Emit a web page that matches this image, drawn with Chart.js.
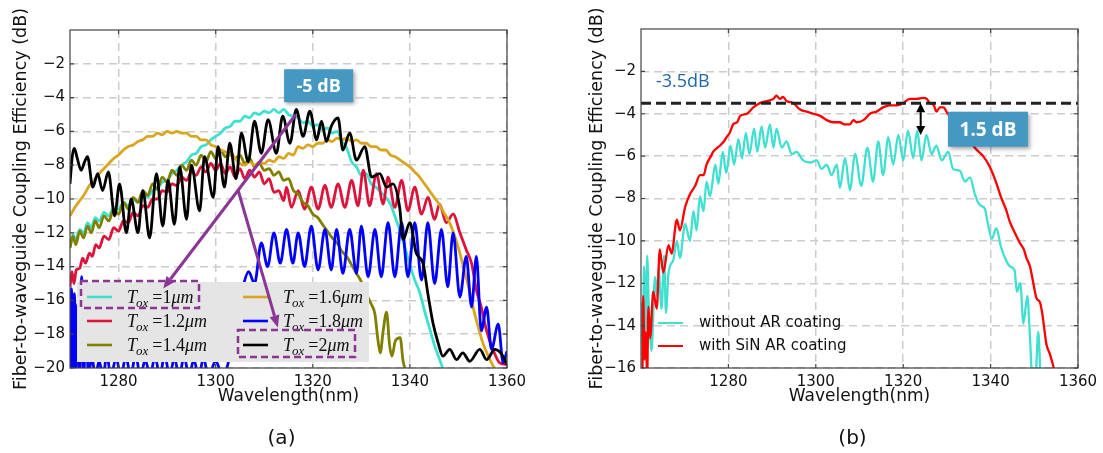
<!DOCTYPE html>
<html>
<head>
<meta charset="utf-8">
<script src="https://cdn.jsdelivr.net/npm/chart.js@4"></script>
<style>
  html, body { margin: 0; padding: 0; background: #fff; }
  #wrap { position: relative; width: 1103px; height: 453px; overflow: hidden; }
  canvas { position: absolute; top: 0; }
  #chartA { left: 0; }
  #chartB { left: 560px; }
</style>
</head>
<body>
<div id="wrap">
  <canvas id="chartA" width="540" height="453"></canvas>
  <canvas id="chartB" width="543" height="453"></canvas>
</div>
<script>
// axis ticks
const xTicksA = [1280, 1300, 1320, 1340, 1360];
const yTicksA = [-20, -18, -16, -14, -12, -10, -8, -6, -4, -2];
const xTicksB = [1280, 1300, 1320, 1340, 1360];
const yTicksB = [-16, -14, -12, -10, -8, -6, -4, -2];

// legend entries
const oxideThickness = ['1', '1.2', '1.4', '1.6', '1.8', '2'];
const coatingLabels = ['without AR coating', 'with SiN AR coating'];

// annotated levels (dB)
const peakDb = -5;
const refLevelDb = -3.5;
const gainDb = 1.5;

// (a) coupling spectra for each oxide thickness, [wavelength nm, dB]
const tox10 = [[1270,-12.8],[1270.6,-12.1],[1271.2,-12.4],[1272,-11.8],[1272.8,-12.0],[1273.6,-11.4],[1274.4,-11.7],[1275.2,-11.1],[1276,-11.3],[1277,-10.8],[1278,-11.0],[1279,-10.5],[1280,-10.6],[1281,-10.2],[1282,-10.4],[1283,-10.0],[1284,-10.2],[1285,-9.8],[1286,-9.9],[1287,-9.5],[1288,-9.4],[1289,-9.0],[1290,-8.9],[1291,-8.5],[1292,-8.3],[1293,-8.0],[1294,-7.8],[1295,-7.4],[1296,-7.3],[1297,-6.9],[1298,-6.8],[1299,-6.5],[1300,-6.3],[1301,-6.1],[1302,-5.8],[1303,-5.7],[1304,-5.4],[1305,-5.4],[1306,-5.1],[1307,-5.2],[1308,-4.9],[1309,-5.0],[1310,-4.8],[1311,-4.9],[1312,-4.7],[1313,-4.9],[1314,-4.7],[1315,-5.0],[1316,-5.1],[1317,-5.2],[1318,-5.5],[1319,-5.4],[1320,-5.7],[1321,-5.6],[1322,-5.9],[1323,-5.8],[1324,-6.1],[1325,-6.0],[1326,-6.6],[1327,-7.0],[1328,-7.8],[1329,-8.1],[1330,-8.6],[1331,-8.5],[1332,-9.1],[1333,-9.3],[1334,-9.6],[1335,-9.9],[1336,-10.3],[1337,-11.1],[1338,-11.9],[1339,-12.9],[1340,-13.9],[1341,-14.8],[1342,-15.5],[1343,-16.6],[1344,-17.6],[1345,-18.6],[1346,-19.4],[1347,-20.2]];
const tox12 = [[1270,-15.2],[1270.4,-14.3],[1270.8,-15.0],[1271.3,-14.2],[1272,-14.1],[1272.6,-13.5],[1273.2,-13.8],[1274,-13.2],[1274.6,-13.4],[1275.3,-12.7],[1276,-12.9],[1277,-12.2],[1278,-12.4],[1279,-11.7],[1280,-11.9],[1281,-11.3],[1282,-11.4],[1283,-10.8],[1284,-11.0],[1285,-10.4],[1286,-10.5],[1287,-10.0],[1288,-10.0],[1289,-9.5],[1290,-9.6],[1291,-9.1],[1292,-9.2],[1293,-8.7],[1294,-8.9],[1295,-8.4],[1296,-8.6],[1297,-8.1],[1298,-8.4],[1299,-7.9],[1300,-8.3],[1301,-7.9],[1302,-8.5],[1303,-8.1],[1304,-8.7],[1305,-8.2],[1306,-8.8],[1307,-8.3],[1308,-8.7],[1309,-8.4],[1310,-9.1],[1311,-8.8],[1312,-9.6],[1313,-9.5],[1314,-10.1],[1314.6,-9.3],[1315.6,-10.5],[1317,-9.5],[1318.3,-10.6],[1319.7,-9.3],[1321.1,-10.6],[1322.5,-9.2],[1323.8,-10.5],[1325.2,-9.1],[1326.6,-10.5],[1328,-8.9],[1329.3,-10.4],[1330.4,-8.3],[1331.7,-10.4],[1333.1,-8.5],[1334.5,-10.3],[1335.5,-8.7],[1336.9,-10.5],[1338.3,-8.9],[1339.6,-10.7],[1341,-9.3],[1342.4,-10.9],[1343.7,-9.9],[1345.1,-11.2],[1346.1,-10.3],[1347.5,-11.4],[1348.9,-10.9],[1350.3,-12.0],[1351.6,-13.0],[1352.7,-13.8],[1353.7,-15.4],[1354.7,-16.4],[1355.8,-17.8],[1357.1,-18.9],[1358.5,-19.7],[1360,-19.8]];
const tox14 = [[1270,-12.9],[1270.6,-12.2],[1271.2,-12.7],[1272,-11.9],[1272.8,-12.3],[1273.6,-11.6],[1274.4,-12.0],[1275.2,-11.3],[1276,-11.7],[1277,-11.0],[1278,-11.3],[1279,-10.6],[1280,-10.9],[1281,-10.2],[1282,-10.6],[1283,-9.9],[1284,-10.2],[1285,-9.5],[1286,-9.8],[1287,-9.1],[1288,-9.4],[1289,-8.7],[1290,-9.0],[1291,-8.3],[1292,-8.6],[1293,-8.0],[1294,-8.3],[1295,-7.7],[1296,-8.0],[1297,-7.4],[1298,-7.8],[1299,-7.2],[1300,-7.6],[1301,-7.1],[1302,-7.5],[1303,-7.2],[1304,-7.6],[1305,-7.4],[1306,-7.9],[1307,-7.6],[1308,-8.1],[1309,-7.9],[1310,-8.3],[1311,-8.2],[1312,-8.6],[1313,-8.4],[1314,-8.9],[1315,-8.8],[1316,-9.5],[1317,-9.7],[1318,-10.2],[1319,-10.4],[1320,-10.9],[1321,-11.1],[1322,-11.5],[1323,-11.9],[1324,-12.3],[1325,-12.6],[1326,-13.1],[1327,-13.4],[1328,-13.9],[1329,-14.4],[1330,-14.9],[1331,-15.6],[1332,-16.2],[1332.8,-16.8],[1333.4,-18.3],[1333.9,-19.1],[1334.5,-17.8],[1335.2,-16.7],[1335.8,-18.6],[1336.3,-19.3],[1337,-18.4],[1338,-18.2],[1338.6,-19.6],[1339.4,-20.3]];
const tox16 = [[1270,-11.0],[1271,-10.5],[1272,-10.1],[1273,-9.7],[1274,-9.2],[1275,-8.9],[1276,-8.5],[1277,-8.2],[1278,-7.9],[1279,-7.6],[1280,-7.4],[1281,-7.1],[1282,-6.9],[1283,-6.8],[1284,-6.6],[1285,-6.5],[1286,-6.3],[1287,-6.3],[1288,-6.1],[1289,-6.2],[1290,-6.0],[1291,-6.1],[1292,-6.0],[1293,-6.1],[1294,-6.1],[1295,-6.3],[1296,-6.3],[1297,-6.5],[1298,-6.5],[1299,-6.8],[1300,-6.9],[1301,-7.1],[1302,-7.2],[1303,-7.4],[1304,-7.6],[1305,-7.9],[1306,-8.0],[1307,-7.8],[1308,-8.0],[1309,-7.8],[1310,-7.9],[1311,-7.7],[1312,-7.8],[1313,-7.5],[1314,-7.6],[1315,-7.3],[1316,-7.4],[1317,-6.9],[1318,-7.0],[1319,-6.8],[1320,-6.9],[1321,-6.7],[1322,-6.7],[1323,-6.5],[1324,-6.6],[1325,-6.4],[1326,-6.5],[1327,-6.4],[1328,-6.6],[1329,-6.5],[1330,-6.7],[1331,-6.7],[1332,-6.9],[1333,-6.9],[1334,-7.1],[1335,-7.1],[1336,-7.4],[1337,-7.5],[1338,-7.7],[1339,-7.9],[1340,-8.1],[1341,-8.4],[1342,-8.7],[1343,-9.1],[1344,-9.5],[1345,-9.9],[1346,-10.3],[1347,-10.8],[1348,-11.3],[1349,-12.0],[1350,-12.9],[1351,-14.0],[1352,-15.1],[1353,-16.4],[1354,-17.5],[1355,-18.5],[1356,-19.2],[1357,-19.8],[1358,-20.3]];
const tox18 = [[1270,-20.5],[1270.3,-15.3],[1270.6,-20.5],[1270.9,-15.6],[1271.2,-20.5],[1271.6,-16.2],[1272,-20.5],[1272.4,-14.6],[1272.8,-20.5],[1273.3,-17.5],[1273.8,-20.5],[1274.5,-19.3],[1275.2,-20.5],[1276,-19.6],[1276.8,-20.5],[1277.6,-19.2],[1278.4,-20.5],[1279.5,-19.4],[1280.5,-20.5],[1281.5,-19.3],[1282.5,-20.5],[1283.5,-19.2],[1284.5,-20.5],[1285.5,-19.5],[1286.5,-20.5],[1287.5,-19.3],[1288.5,-20.5],[1289.5,-19.2],[1290.5,-20.5],[1291.5,-19.4],[1292.5,-20.5],[1293.5,-19.3],[1294.5,-20.5],[1295.5,-19.5],[1296.5,-20.5],[1297.5,-19.4],[1298.5,-20.5],[1300,-19.6],[1301.5,-20.5],[1303,-19.2],[1304,-17.8],[1305,-16.2],[1305.8,-15.0],[1306.8,-14.3],[1308,-15.0],[1309.4,-12.6],[1310.7,-14.0],[1312,-12.0],[1313.3,-13.8],[1314.6,-11.8],[1315.9,-13.8],[1317,-12.0],[1318.3,-14.0],[1319.7,-11.6],[1321.1,-14.2],[1322.5,-11.8],[1323.8,-14.2],[1324.9,-11.8],[1326.2,-14.4],[1327.6,-11.8],[1329,-14.4],[1330,-11.6],[1331.4,-14.6],[1332.8,-11.8],[1334.1,-14.6],[1335.5,-11.4],[1336.9,-14.6],[1338.3,-11.4],[1339.6,-14.6],[1341,-11.4],[1342.4,-14.8],[1343.7,-11.4],[1345.1,-15.0],[1346.5,-11.8],[1347.8,-15.2],[1348.9,-12.0],[1350.3,-15.8],[1351.6,-13.4],[1352.7,-16.4],[1353.7,-13.4],[1354.7,-17.8],[1355.8,-16.4],[1356.8,-18.9],[1358.2,-17.4],[1359.2,-19.7],[1360,-19.0]];
const tox20 = [[1270,-9.1],[1270.5,-7.4],[1270.9,-7.0],[1271.5,-7.6],[1272.3,-8.3],[1273,-7.8],[1273.6,-7.5],[1274.7,-9.3],[1275.7,-8.5],[1276.7,-9.5],[1277.9,-8.4],[1279.2,-11.0],[1280.2,-9.1],[1281.6,-12.0],[1282.6,-10.0],[1284,-12.0],[1285,-9.5],[1286.4,-12.3],[1287.8,-8.5],[1289.1,-11.6],[1290.2,-8.9],[1291.5,-11.5],[1292.6,-8.1],[1294,-11.2],[1295,-8.0],[1296.7,-10.7],[1297.7,-7.5],[1299.5,-9.9],[1300.5,-6.9],[1301.8,-9.3],[1302.9,-6.7],[1304.2,-8.8],[1305.3,-6.1],[1306.7,-7.8],[1308,-5.4],[1309.4,-7.3],[1310.8,-5.3],[1312.5,-7.3],[1313.8,-5.1],[1315.3,-6.7],[1316.6,-4.7],[1318,-6.3],[1319.4,-4.8],[1320.8,-6.5],[1321.8,-5.4],[1322.8,-6.6],[1323.8,-5.7],[1325.2,-5.2],[1326.2,-7.1],[1327.6,-6.1],[1329,-7.7],[1330.7,-6.9],[1332.1,-8.7],[1333.8,-8.5],[1335.2,-9.3],[1336.5,-9.1],[1337.9,-10.5],[1338.6,-12.4],[1340,-11.4],[1341.3,-13.2],[1342.7,-13.8],[1343.7,-15.6],[1344.8,-17.4],[1345.8,-18.5],[1346.8,-19.3],[1348.2,-18.9],[1349.6,-19.5],[1350.9,-19.1],[1352.3,-19.6],[1354.4,-18.9],[1355.8,-19.5],[1357.5,-18.9],[1359.2,-19.3],[1360,-19.8]];

// (b) coupling spectra with and without the SiN AR layer, [wavelength nm, dB]
const noCoating = [[1260,-12.9],[1260.4,-15.0],[1260.7,-11.2],[1261.1,-14.6],[1261.4,-10.7],[1261.8,-13.2],[1262.4,-15.2],[1263.2,-11.7],[1263.6,-12.6],[1264,-11.3],[1264.7,-13.2],[1265.3,-10.7],[1265.7,-13.4],[1266.3,-11.5],[1267.4,-10.9],[1268.2,-10.0],[1268.9,-10.8],[1270.1,-9.2],[1271.2,-10.0],[1272,-8.6],[1272.7,-9.5],[1273.5,-7.9],[1274.3,-8.6],[1275,-7.2],[1275.8,-7.9],[1277,-6.4],[1277.7,-7.3],[1278.7,-5.8],[1279.5,-6.8],[1280.5,-5.5],[1281.3,-6.4],[1282.3,-5.2],[1283.1,-6.1],[1284,-4.9],[1284.8,-5.9],[1285.9,-4.7],[1286.6,-5.8],[1287.6,-4.6],[1288.4,-5.6],[1289.5,-4.5],[1290.3,-5.6],[1291,-4.7],[1292.2,-5.6],[1293.3,-5.3],[1294.5,-5.9],[1295.6,-5.8],[1297.1,-6.2],[1298.7,-6.3],[1300.2,-6.2],[1301.3,-6.6],[1302.5,-6.4],[1303.6,-6.9],[1304.8,-6.4],[1305.5,-7.5],[1306.7,-6.1],[1307.8,-7.6],[1309,-5.9],[1310.4,-7.4],[1311.8,-5.6],[1313.1,-7.2],[1314.3,-5.3],[1315.4,-6.9],[1316.6,-5.1],[1317.7,-6.4],[1318.9,-5.0],[1320,-6.2],[1321.1,-4.8],[1322.3,-6.1],[1323.2,-4.8],[1324.2,-6.2],[1325.3,-5.0],[1326.5,-5.9],[1327.6,-5.5],[1328.8,-6.2],[1330.3,-5.8],[1331.4,-6.6],[1333,-6.7],[1334.1,-7.2],[1335.3,-7.0],[1336.4,-7.8],[1337.5,-8.3],[1338.7,-8.5],[1339.3,-9.1],[1340.3,-9.9],[1341.3,-9.4],[1342.4,-10.3],[1343.5,-10.9],[1344.4,-11.2],[1345.5,-11.4],[1346,-12.4],[1346.8,-12.0],[1347.5,-13.9],[1348.4,-12.6],[1349,-14.5],[1349.5,-16.3],[1350.3,-16.3],[1350.9,-14.3],[1351.4,-16.3]];
const sinCoating = [[1260,-16.5],[1260.3,-16.5],[1260.5,-12.6],[1260.8,-15.6],[1261.1,-14.3],[1261.4,-16.5],[1261.7,-13.1],[1262.1,-14.6],[1262.8,-12.4],[1263.6,-13.2],[1264.3,-10.4],[1265.1,-11.5],[1266.3,-10.2],[1267,-10.6],[1268.2,-9.0],[1268.9,-9.5],[1270.1,-8.4],[1271.2,-7.8],[1272.4,-7.4],[1273.5,-6.9],[1274.3,-6.9],[1275,-6.4],[1276,-6.0],[1276.5,-5.8],[1277.5,-5.6],[1278.1,-5.5],[1279,-5.3],[1279.6,-5.1],[1280.3,-4.9],[1281.1,-4.5],[1282,-4.4],[1282.7,-4.1],[1284.2,-4.0],[1285.7,-3.7],[1287.2,-3.5],[1288.8,-3.4],[1290.3,-3.3],[1291,-3.15],[1291.8,-3.3],[1292.5,-3.2],[1293.3,-3.4],[1294.9,-3.5],[1296.4,-3.8],[1297.9,-3.9],[1299.4,-4.0],[1301,-4.1],[1302.5,-4.3],[1304,-4.4],[1305.5,-4.4],[1306.5,-4.5],[1307.8,-4.5],[1308.6,-4.3],[1309.3,-4.4],[1310.9,-4.3],[1312.4,-4.0],[1313.9,-3.9],[1315.4,-3.7],[1317,-3.6],[1318.5,-3.6],[1320,-3.5],[1321.5,-3.3],[1323.1,-3.3],[1324.6,-3.25],[1325.4,-3.3],[1326.1,-3.5],[1327,-3.6],[1327.6,-3.9],[1328.4,-3.7],[1329.2,-3.7],[1330.2,-4.0],[1331.5,-4.3],[1333,-4.7],[1334.5,-5.1],[1336,-5.5],[1336.8,-5.7],[1338.3,-6.0],[1339.8,-6.5],[1341.2,-7.2],[1342.5,-8.0],[1343.5,-8.5],[1344.4,-9.1],[1345.5,-9.6],[1346.7,-10.1],[1347.6,-10.4],[1348.2,-10.8],[1349,-11.2],[1349.6,-11.8],[1350.5,-12.7],[1351.3,-12.9],[1351.8,-13.4],[1352.8,-14.9],[1353.5,-15.3],[1354.2,-15.8],[1354.8,-16.3]];

const colorsA = ['#40e0d0', '#dc143c', '#808000', '#daa520', '#0000ff', '#000000'];
const colorsB = ['#40e0d0', '#ff0000'];
const purple = '#8b3595';
const calloutBlue = '#4598c2';
const tickFont = { family: 'DejaVu Sans', size: 15 };
const yTitle = 'Fiber-to-waveguide Coupling Efficiency (dB)';

const toXY = s => s.map(([x, y]) => ({ x, y }));
const fmt = v => (v < 0 ? '\u2212' + Math.abs(v) : String(v));

function scalesFor(xMin, xMax, yMin, yMax, xTicks, yTicks, yWidth) {
  const grid = { color: '#cccccc', lineWidth: 1.5, drawTicks: false };
  const border = { display: false, dash: [8, 5] };
  return {
    x: {
      type: 'linear', min: xMin, max: xMax,
      afterBuildTicks: s => { s.ticks = xTicks.map(v => ({ value: v })); },
      afterFit: s => { s.height = 85; },
      grid, border,
      ticks: { font: tickFont, color: '#111', padding: 5, maxRotation: 0, callback: fmt }
    },
    y: {
      type: 'linear', min: yMin, max: yMax,
      afterBuildTicks: s => { s.ticks = yTicks.map(v => ({ value: v })); },
      afterFit: s => { s.width = yWidth; },
      grid, border,
      ticks: { font: tickFont, color: '#111', padding: 5, callback: fmt }
    }
  };
}

function px(chart, x, y) {
  return { x: chart.scales.x.getPixelForValue(x), y: chart.scales.y.getPixelForValue(y) };
}

function arrow(ctx, a, b, color, width, head, headW) {
  const ang = Math.atan2(b.y - a.y, b.x - a.x);
  const bx = b.x - head * Math.cos(ang), by = b.y - head * Math.sin(ang);
  ctx.strokeStyle = color;
  ctx.fillStyle = color;
  ctx.lineWidth = width;
  ctx.beginPath(); ctx.moveTo(a.x, a.y); ctx.lineTo(bx, by); ctx.stroke();
  ctx.beginPath();
  ctx.moveTo(b.x, b.y);
  ctx.lineTo(bx + headW / 2 * Math.sin(ang), by - headW / 2 * Math.cos(ang));
  ctx.lineTo(bx - headW / 2 * Math.sin(ang), by + headW / 2 * Math.cos(ang));
  ctx.closePath(); ctx.fill();
}

function callout(ctx, c, w, h, text, size) {
  ctx.save();
  ctx.shadowColor = 'rgba(0,0,0,0.35)';
  ctx.shadowBlur = 4; ctx.shadowOffsetX = 2; ctx.shadowOffsetY = 2;
  ctx.fillStyle = calloutBlue;
  ctx.fillRect(c.x - w / 2, c.y - h / 2, w, h);
  ctx.restore();
  ctx.fillStyle = '#fff';
  ctx.font = `bold ${size}px "Open Sans"`;
  ctx.textAlign = 'center';
  ctx.textBaseline = 'middle';
  ctx.fillText(text, c.x, c.y + 1);
}

// box, inward tick marks, axis titles and panel tag
const framePlugin = {
  id: 'frame',
  afterDraw(chart, args, opts) {
    const { ctx, chartArea: a, scales } = chart;
    ctx.save();
    ctx.strokeStyle = '#444';
    ctx.lineWidth = 1.2;
    ctx.setLineDash([]);
    ctx.strokeRect(a.left, a.top, a.right - a.left, a.bottom - a.top);
    ctx.beginPath();
    scales.x.ticks.forEach(t => {
      const x = scales.x.getPixelForValue(t.value);
      ctx.moveTo(x, a.top); ctx.lineTo(x, a.top + 4);
      ctx.moveTo(x, a.bottom); ctx.lineTo(x, a.bottom - 4);
    });
    scales.y.ticks.forEach(t => {
      const y = scales.y.getPixelForValue(t.value);
      ctx.moveTo(a.left, y); ctx.lineTo(a.left + 4, y);
      ctx.moveTo(a.right, y); ctx.lineTo(a.right - 4, y);
    });
    ctx.stroke();

    ctx.fillStyle = '#111';
    ctx.font = '17px "DejaVu Sans"';
    ctx.textAlign = 'center';
    ctx.textBaseline = 'middle';
    ctx.fillText('Wavelength(nm)', (a.left + a.right) / 2, a.bottom + 29);
    ctx.save();
    ctx.translate(opts.yTitleX, (a.top + a.bottom) / 2);
    ctx.rotate(-Math.PI / 2);
    ctx.font = '17.5px "DejaVu Sans"';
    ctx.fillText(yTitle, 0, 0);
    ctx.restore();
    ctx.font = '20px "DejaVu Sans"';
    ctx.fillText(opts.tag, (a.left + a.right) / 2 - 7, a.bottom + 71);
    ctx.restore();
  }
};

function drawTox(ctx, x, y, value) {
  const base = y + 6;
  ctx.fillStyle = '#111';
  ctx.textAlign = 'left';
  ctx.textBaseline = 'alphabetic';
  ctx.font = 'italic 18px "Liberation Serif"';
  ctx.fillText('T', x, base);
  x += ctx.measureText('T').width - 1;
  ctx.font = 'italic 13px "Liberation Serif"';
  ctx.fillText('ox', x, base + 4);
  x += ctx.measureText('ox').width + 4;
  ctx.font = '18px "Liberation Serif"';
  ctx.fillText('=' + value, x, base);
  x += ctx.measureText('=' + value).width;
  ctx.font = 'italic 18px "Liberation Serif"';
  ctx.fillText('\u03bcm', x, base);
}

// (a): legend box, highlighted entries, arrows and the peak callout
const panelAPlugin = {
  id: 'panelA',
  afterDatasetsDraw(chart) {
    const { ctx, chartArea: a } = chart;
    const bx = a.left + 7, by = a.bottom - 86, bw = 292, bh = 80;
    const rows = [15, 39, 63];
    const cols = [10, 166];
    ctx.save();
    ctx.fillStyle = '#e5e5e5';
    ctx.fillRect(bx, by, bw, bh);
    oxideThickness.forEach((t, i) => {
      const cx = bx + cols[Math.floor(i / 3)];
      const cy = by + rows[i % 3];
      ctx.strokeStyle = colorsA[i];
      ctx.lineWidth = 2.6;
      ctx.beginPath(); ctx.moveTo(cx, cy); ctx.lineTo(cx + 25, cy); ctx.stroke();
      drawTox(ctx, cx + 40, cy, t);
    });

    // dashed frames around the 1 um and 2 um entries
    ctx.strokeStyle = purple;
    ctx.lineWidth = 2.5;
    ctx.setLineDash([7, 4]);
    ctx.strokeRect(bx + 4, by - 1, 118, 27);
    ctx.strokeRect(bx + 161, by + 48, 117, 27);
    ctx.setLineDash([]);

    const start = px(chart, 1316.5, peakDb);
    const end1 = px(chart, 1289.2, -15.3);
    const fork = { x: start.x + (end1.x - start.x) * 0.435, y: start.y + (end1.y - start.y) * 0.435 };
    const end2 = px(chart, 1312.8, -17.6);
    arrow(ctx, start, end1, purple, 3, 12, 10);
    arrow(ctx, fork, end2, purple, 3, 12, 10);

    callout(ctx, px(chart, 1321.2, -3.3), 69, 33, `${peakDb} dB`, 18);
    ctx.restore();
  }
};

// (b): legend, reference label, gap arrow and callout
const panelBPlugin = {
  id: 'panelB',
  afterDatasetsDraw(chart) {
    const { ctx, chartArea: a } = chart;
    ctx.save();
    const rows = [a.bottom - 45, a.bottom - 22];
    coatingLabels.forEach((label, i) => {
      ctx.strokeStyle = colorsB[i];
      ctx.lineWidth = 2;
      ctx.beginPath(); ctx.moveTo(a.left + 17, rows[i]); ctx.lineTo(a.left + 42, rows[i]); ctx.stroke();
      ctx.fillStyle = '#111';
      ctx.font = '15px "DejaVu Sans"';
      ctx.textAlign = 'left';
      ctx.textBaseline = 'middle';
      ctx.fillText(label, a.left + 58, rows[i]);
    });

    ctx.fillStyle = '#1f66ae';
    ctx.font = '18px "Open Sans"';
    ctx.textAlign = 'left';
    ctx.textBaseline = 'middle';
    ctx.fillText(`${refLevelDb}dB`, a.left + 15, px(chart, 1260, -2.5).y);

    const top = px(chart, 1324, refLevelDb);
    const bottom = px(chart, 1324, refLevelDb - gainDb);
    const mid = { x: top.x, y: (top.y + bottom.y) / 2 };
    arrow(ctx, mid, top, '#000', 2, 9, 9);
    arrow(ctx, mid, bottom, '#000', 2, 9, 9);

    callout(ctx, px(chart, 1339.4, -4.73), 80, 35, `${gainDb} dB`, 19);
    ctx.restore();
  }
};

new Chart(document.getElementById('chartA'), {
  type: 'line',
  data: {
    datasets: [tox10, tox12, tox14, tox16, tox18, tox20].map((s, i) => ({
      label: 'Tox=' + oxideThickness[i] + 'um',
      data: toXY(s),
      borderColor: colorsA[i],
      borderWidth: 2.8,
      pointRadius: 0,
      cubicInterpolationMode: 'monotone',
      clip: 0,
      order: 6 - i
    }))
  },
  options: {
    responsive: false,
    animation: false,
    events: [],
    layout: { padding: { top: 30, right: 33, left: 0, bottom: 0 } },
    scales: scalesFor(1270, 1360, -20, 0, xTicksA, yTicksA, 70),
    plugins: { legend: { display: false }, tooltip: { enabled: false }, frame: { yTitleX: 21, tag: '(a)' } }
  },
  plugins: [panelAPlugin, framePlugin]
});

new Chart(document.getElementById('chartB'), {
  type: 'line',
  data: {
    datasets: [
      { label: coatingLabels[0], data: toXY(noCoating), borderColor: colorsB[0], borderWidth: 2.3, pointRadius: 0, cubicInterpolationMode: 'monotone', clip: 0, order: 3 },
      { label: coatingLabels[1], data: toXY(sinCoating), borderColor: colorsB[1], borderWidth: 2.3, pointRadius: 0, cubicInterpolationMode: 'monotone', clip: 0, order: 2 },
      { label: 'reference', data: [{ x: 1260, y: refLevelDb }, { x: 1360, y: refLevelDb }], borderColor: '#222', borderWidth: 3, borderDash: [10, 5], pointRadius: 0, clip: 0, order: 1 }
    ]
  },
  options: {
    responsive: false,
    animation: false,
    events: [],
    layout: { padding: { top: 29, right: 25, left: 0, bottom: 0 } },
    scales: scalesFor(1260, 1360, -16, 0, xTicksB, yTicksB, 81),
    plugins: { legend: { display: false }, tooltip: { enabled: false }, frame: { yTitleX: 37, tag: '(b)' } }
  },
  plugins: [panelBPlugin, framePlugin]
});
</script>
</body>
</html>
